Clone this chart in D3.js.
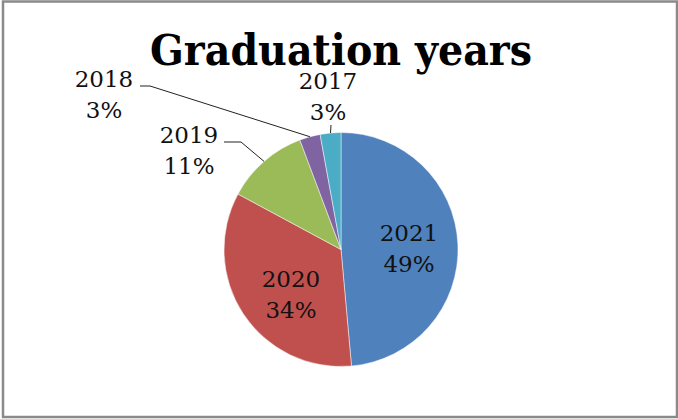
<!DOCTYPE html>
<html>
<head>
<meta charset="utf-8">
<script src="https://cdn.jsdelivr.net/npm/d3@7"></script>
<style>
html,body{margin:0;padding:0;background:#fff;}
svg{display:block;}
</style>
</head>
<body>
<svg id="chart" width="678" height="419"></svg>
<script>
// ---- data ----
const categories = ["2021", "2020", "2019", "2018", "2017"];
const counts = [17, 12, 4, 1, 1];
const colors = ["#4F81BD", "#C0504D", "#9BBB59", "#8064A2", "#4BACC6"];
const title = "Graduation years";

// ---- layout (label anchors, not data) ----
const labelLayout = {
  "2021": {x: 409, y: 241, leader: false},
  "2020": {x: 291, y: 287, leader: false},
  "2019": {x: 189, y: 143, leader: true, elbow: [[241, 142], [224, 142]]},
  "2018": {x: 104, y: 87, leader: true, elbow: [[150, 86], [140, 86]]},
  "2017": {x: 328, y: 89, leader: true, elbow: [[331, 125]]}
};

const W = 678, H = 419;
const cx = 341, cy = 249.5, R = 117;
const svg = d3.select("#chart");

svg.append("rect").attr("x", 0).attr("y", 0).attr("width", W).attr("height", H).attr("fill", "#fff");
svg.append("rect").attr("x", 3).attr("y", 1.5).attr("width", 674).attr("height", 415.5)
  .attr("fill", "none").attr("stroke", "#8a8a8a").attr("stroke-width", 2.5);

svg.append("text")
  .attr("x", cx).attr("y", 65)
  .attr("text-anchor", "middle")
  .attr("font-family", "DejaVu Serif, Liberation Serif, serif")
  .attr("font-weight", "bold")
  .attr("font-size", 42)
  .attr("textLength", 382)
  .attr("lengthAdjust", "spacingAndGlyphs")
  .attr("fill", "#000")
  .text(title);

const data = categories.map((c, i) => ({cat: c, value: counts[i], color: colors[i]}));
const total = d3.sum(counts);
const pie = d3.pie().value(d => d.value).sort(null);
const arcs = pie(data);
const arc = d3.arc().innerRadius(0).outerRadius(R);

const g = svg.append("g").attr("transform", `translate(${cx},${cy})`);
g.selectAll("path").data(arcs).join("path")
  .attr("d", arc)
  .attr("fill", d => d.data.color)
  .attr("stroke", "#ffffff")
  .attr("stroke-opacity", 0.6)
  .attr("stroke-width", 0.8);

// leaders
const edgeArc = d3.arc().innerRadius(R).outerRadius(R);
arcs.forEach(a => {
  const L = labelLayout[a.data.cat];
  if (!L.leader) return;
  const [ex, ey] = edgeArc.centroid(a);
  const pts = [[cx + ex, cy + ey]].concat(L.elbow);
  svg.append("path")
    .attr("d", d3.line()(pts))
    .attr("fill", "none")
    .attr("stroke", "#222")
    .attr("stroke-width", 1);
});

// labels
arcs.forEach(a => {
  const L = labelLayout[a.data.cat];
  const pct = Math.round(a.data.value / total * 100) + "%";
  const t = svg.append("text")
    .attr("text-anchor", "middle")
    .attr("font-family", "DejaVu Serif, Liberation Serif, serif")
    .attr("font-size", 23)
    .attr("fill", "#111");
  t.append("tspan").attr("x", L.x).attr("y", L.y).text(a.data.cat);
  t.append("tspan").attr("x", L.x).attr("y", L.y + 30.5).text(pct);
});
</script>
</body>
</html>
